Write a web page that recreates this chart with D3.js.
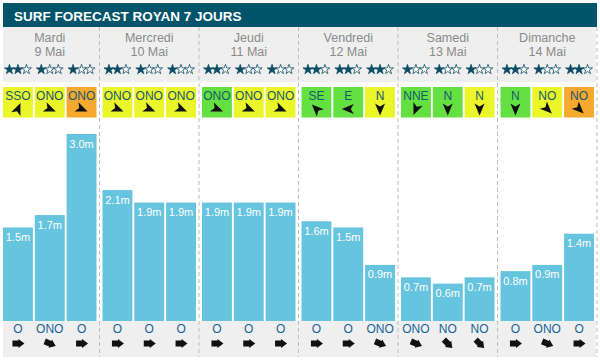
<!DOCTYPE html>
<html>
<head>
<meta charset="utf-8">
<script src="https://cdnjs.cloudflare.com/ajax/libs/d3/7.8.5/d3.min.js"></script>
<style>
  body { margin: 0; background: #fff; }
  text { font-family: "Liberation Sans", Arial, sans-serif; }
</style>
</head>
<body>
<div id="chart"></div>
<script>
// data
var title = "SURF FORECAST ROYAN 7 JOURS";
var dayNames = ["Mardi", "Mercredi", "Jeudi", "Vendredi", "Samedi", "Dimanche"];
var dayDates = ["9 Mai", "10 Mai", "11 Mai", "12 Mai", "13 Mai", "14 Mai"];
var stars = [2,1,1, 2,1,1, 2,1,1, 2,2,2, 1,1,1, 2,1,2];
var windDir = ["SSO","ONO","ONO", "ONO","ONO","ONO", "ONO","ONO","ONO", "SE","E","N", "NNE","N","N", "N","NO","NO"];
var windQuality = ["y","y","o", "y","y","y", "g","y","y", "g","g","y", "g","g","y", "g","y","o"];
var waveHeight = [1.5,1.7,3.0, 2.1,1.9,1.9, 1.9,1.9,1.9, 1.6,1.5,0.9, 0.7,0.6,0.7, 0.8,0.9,1.4];
var swellDir = ["O","ONO","O", "O","O","O", "O","O","O", "O","O","ONO", "ONO","NO","NO", "O","ONO","O"];

var compass = {N:0, NNE:22.5, NE:45, ENE:67.5, E:90, ESE:112.5, SE:135, SSE:157.5,
  S:180, SSO:202.5, SO:225, OSO:247.5, O:270, ONO:292.5, NO:315, NNO:337.5};
var qualityColor = {y: "#eaf52a", o: "#f7a82f", g: "#64e042"};

var W = 600, H = 362;
var svg = d3.select("#chart").append("svg")
  .attr("width", W).attr("height", H);

var slots = waveHeight.map(function(d, i) {
  return {day: Math.floor(i / 3), k: i % 3, h: d, stars: stars[i],
          wind: windDir[i], q: windQuality[i], swell: swellDir[i]};
});

// scales
var xDay = d3.scaleBand().domain(d3.range(6)).range([0, 597]);
var xSlot = d3.scaleBand().domain([0,1,2]).range([3, 96.5]).paddingInner(0.06);
var y = d3.scaleLinear().domain([0, 3.0]).range([321, 134]);
function cx(d) { return xDay(d.day) + xSlot(d.k) + xSlot.bandwidth() / 2; }

// title bar
svg.append("rect").attr("x", 3).attr("y", 3).attr("width", 594).attr("height", 24)
  .attr("fill", "#02546a");
svg.append("text").attr("x", 14).attr("y", 20.5).text(title)
  .attr("fill", "#fff").attr("font-weight", "bold").attr("font-size", "13.5px");

// header and footer backgrounds
svg.append("rect").attr("x", 3).attr("y", 27).attr("width", 593).attr("height", 55)
  .attr("fill", "#efefef");
svg.append("rect").attr("x", 3).attr("y", 321).attr("width", 593).attr("height", 36)
  .attr("fill", "#efefef");

// day headers
var days = svg.selectAll(".day").data(dayNames).enter().append("g")
  .attr("transform", function(d, i) { return "translate(" + (xDay(i) + 49.75) + ",0)"; });
days.append("text").attr("y", 42).attr("text-anchor", "middle")
  .attr("font-size", "12.5px").attr("fill", "#8a8a8a").text(function(d) { return d; });
days.append("text").attr("y", 55.5).attr("text-anchor", "middle")
  .attr("font-size", "12.5px").attr("fill", "#8a8a8a").text(function(d, i) { return dayDates[i]; });

// stars
var starPath = d3.symbol().type(d3.symbolStar).size(30)();
var starG = svg.selectAll(".stars").data(slots).enter().append("g")
  .attr("transform", function(d) { return "translate(" + cx(d) + ",69.5)"; });
starG.selectAll("path").data(function(d) { return [0,1,2].map(function(s) { return s < d.stars; }); })
  .enter().append("path")
  .attr("d", starPath)
  .attr("transform", function(d, s) { return "translate(" + ((s - 1) * 8.5) + ",0)"; })
  .attr("fill", function(d) { return d ? "#0d4c66" : "#fff"; })
  .attr("stroke", "#0d4c66").attr("stroke-width", 0.8);

// wind boxes
var windG = svg.selectAll(".wind").data(slots).enter().append("g");
windG.append("rect")
  .attr("x", function(d) { return xDay(d.day) + xSlot(d.k); })
  .attr("y", 87).attr("width", xSlot.bandwidth()).attr("height", 30.5)
  .attr("fill", function(d) { return qualityColor[d.q]; });
windG.append("text").attr("x", cx).attr("y", 100).attr("text-anchor", "middle")
  .attr("font-size", "12px").attr("fill", "#165a6e").text(function(d) { return d.wind; });
var dart = "M0,-6.5L5,5.5L0,2.5L-5,5.5Z";
windG.append("path").attr("d", dart).attr("fill", "#111")
  .attr("transform", function(d) {
    return "translate(" + cx(d) + ",109) rotate(" + (compass[d.wind] + 180) + ")";
  });

// wave bars
svg.selectAll(".bar").data(slots).enter().append("rect")
  .attr("x", function(d) { return xDay(d.day) + xSlot(d.k); })
  .attr("y", function(d) { return y(d.h); })
  .attr("width", xSlot.bandwidth())
  .attr("height", function(d) { return y(0) - y(d.h); })
  .attr("fill", "#66c4de");
svg.selectAll(".barlabel").data(slots).enter().append("text")
  .attr("x", cx).attr("y", function(d) { return y(d.h) + 13.5; })
  .attr("text-anchor", "middle").attr("font-size", "11px").attr("fill", "#fff")
  .text(function(d) { return d.h.toFixed(1) + "m"; });

// swell direction
svg.selectAll(".swell").data(slots).enter().append("text")
  .attr("x", cx).attr("y", 333).attr("text-anchor", "middle")
  .attr("font-size", "12px").attr("fill", "#17639a")
  .text(function(d) { return d.swell; });
var block = "M0,-6.5L4.5,-0.5L3,-0.5L3,5.5L-3,5.5L-3,-0.5L-4.5,-0.5Z";
svg.selectAll(".swellarrow").data(slots).enter().append("path")
  .attr("d", block).attr("fill", "#111")
  .attr("transform", function(d) {
    return "translate(" + cx(d) + ",343.5) rotate(" + (compass[d.swell] + 180) + ")";
  });

// dashed day separators
svg.selectAll(".sep").data(d3.range(1, 7)).enter().append("line")
  .attr("x1", function(i) { return i * xDay.step(); })
  .attr("x2", function(i) { return i * xDay.step(); })
  .attr("y1", 27).attr("y2", 357)
  .attr("stroke", "#bdbdbd").attr("stroke-dasharray", "4,3");
</script>
</body>
</html>
